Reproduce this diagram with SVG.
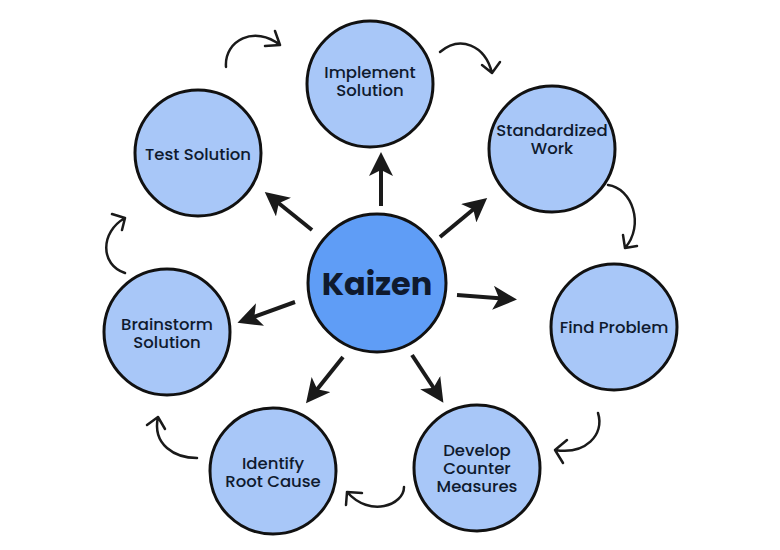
<svg xmlns="http://www.w3.org/2000/svg" width="780" height="550" viewBox="0 0 780 550">
<defs>
<style>
.node{fill:#a8c7f8;stroke:#111;stroke-width:3}
.core{fill:#5f9df6;stroke:#111;stroke-width:3}
.lbl{font-family:"Poppins","Noto Sans","Liberation Sans",sans-serif;font-size:16.5px;font-weight:500;fill:#0f1a2e;text-anchor:middle}
.big{font-family:"Poppins","Noto Sans","Liberation Sans",sans-serif;font-size:32px;font-weight:700;fill:#0f1a2e;text-anchor:middle}
.spoke{stroke:#1a1a1a;stroke-width:4;fill:none;marker-end:url(#ah)}
.cyc{stroke:#1a1a1a;stroke-width:2.5;fill:none;stroke-linecap:round;stroke-linejoin:round}
</style>
<marker id="ah" markerWidth="6" markerHeight="6" refX="4" refY="3" orient="auto" markerUnits="strokeWidth">
<path d="M0,0 L6,3 L0,6 L1.5,3 Z" fill="#1a1a1a"/>
</marker>
</defs>
<rect width="780" height="550" fill="#fff"/>
<g id="connectors">
<line class="spoke" x1="381" y1="206" x2="381" y2="160"/>
<line class="spoke" x1="440" y1="237" x2="481" y2="203"/>
<line class="spoke" x1="457" y1="295" x2="509" y2="299"/>
<line class="spoke" x1="412" y1="355" x2="439" y2="396"/>
<line class="spoke" x1="343" y1="357" x2="311" y2="397"/>
<line class="spoke" x1="295" y1="302" x2="245" y2="320"/>
<line class="spoke" x1="312" y1="230" x2="271" y2="197"/>
<path class="cyc" d="M226,67 C224,40 255,25 280,45 M275,31 L280,45 L265,46"/>
<path class="cyc" d="M440,52 C460,35 485,45 492,73 M482,65 L492,73 L500,62"/>
<path class="cyc" d="M608,185 C632,188 645,225 625,248 M623,235 L625,248 L637,246"/>
<path class="cyc" d="M598,413 C605,435 585,455 555,450 M567,440 L555,450 L563,463"/>
<path class="cyc" d="M404,487 C404,505 370,518 347,492 M362,493 L347,492 L346,505"/>
<path class="cyc" d="M197,458 C175,458 152,445 158,417 M147,425 L158,417 L165,429"/>
<path class="cyc" d="M125,273 C100,265 100,232 125,218 M112,214 L125,218 L122,230"/>
</g>
<g id="kaizen"><circle class="core" cx="377" cy="283" r="69"/><text class="big" x="377" y="295">Kaizen</text></g>
<g id="implement"><circle class="node" cx="370" cy="84" r="63"/><text class="lbl" x="370" y="78">Implement<tspan x="370" dy="18">Solution</tspan></text></g>
<g id="standardized"><circle class="node" cx="552" cy="149" r="63"/><text class="lbl" x="552" y="136">Standardized<tspan x="552" dy="18">Work</tspan></text></g>
<g id="find"><circle class="node" cx="614" cy="327" r="63"/><text class="lbl" x="614" y="333">Find Problem</text></g>
<g id="develop"><circle class="node" cx="477" cy="468" r="63"/><text class="lbl" x="477" y="456">Develop<tspan x="477" dy="18">Counter</tspan><tspan x="477" dy="18">Measures</tspan></text></g>
<g id="identify"><circle class="node" cx="273" cy="471" r="63"/><text class="lbl" x="273" y="469">Identify<tspan x="273" dy="18">Root Cause</tspan></text></g>
<g id="brainstorm"><circle class="node" cx="167" cy="332" r="63"/><text class="lbl" x="167" y="330">Brainstorm<tspan x="167" dy="18">Solution</tspan></text></g>
<g id="test"><circle class="node" cx="198" cy="153" r="63"/><text class="lbl" x="198" y="160">Test Solution</text></g>
</svg>
